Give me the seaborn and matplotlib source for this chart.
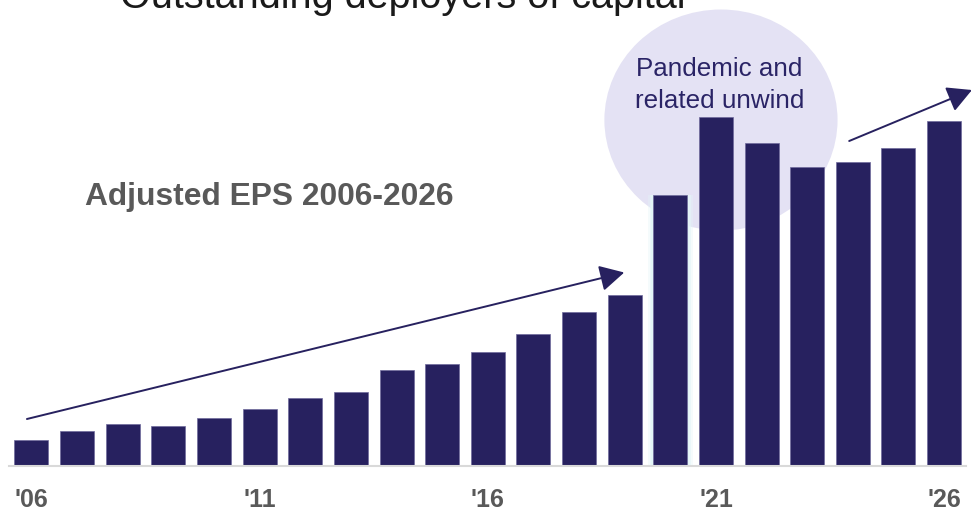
import matplotlib
matplotlib.use("Agg")
import matplotlib.pyplot as plt
from matplotlib.patches import Ellipse
import seaborn as sns
import pandas as pd

# Adjusted EPS index, 2006-2026
years = list(range(2006, 2027))
year_labels = ["'06", "'11", "'16", "'21", "'26"]
eps = [2.52, 3.42, 4.15, 3.95, 4.72, 5.65, 6.75, 7.38, 9.58, 10.15,
       11.38, 13.12, 15.32, 17.05, 27.05, 34.85, 32.25, 29.85, 30.35,
       31.75, 34.45]

NAVY = "#27215f"
GREY = "#595959"
LAVENDER = "#e4e2f4"

sns.set_theme(style="white")
plt.rcParams["font.family"] = ["Liberation Sans", "DejaVu Sans"]

df = pd.DataFrame({"year": [str(y) for y in years], "eps": eps})

fig = plt.figure(figsize=(9.72, 5.09), dpi=100)
ax = fig.add_axes([9 / 972, 43.5 / 509, 957 / 972, 465.5 / 509])

# highlight bubble behind the pandemic years
ax.add_patch(Ellipse((15.11, 34.55), 5.11, 22.1, facecolor=LAVENDER,
                     edgecolor="none", zorder=0))

# soft glow around the 2020 bar
for w, a in [(0.98, 0.35), (0.9, 0.6), (0.84, 0.9)]:
    ax.bar(14, eps[14], width=w, color="#e3f5f7", alpha=a, zorder=1,
           linewidth=0)

sns.barplot(data=df, x="year", y="eps", color=NAVY, saturation=1,
            width=0.745, edgecolor="#6f6a9c", linewidth=0.5, ax=ax, zorder=2)

ax.set_xlim(-0.493, 20.48)
ax.set_ylim(0, 46.55)
ax.set_xlabel("")
ax.set_ylabel("")
ax.set_yticks([])
ax.set_xticks([0, 5, 10, 15, 20])
ax.set_xticklabels(year_labels, fontsize=18, fontweight="bold", color=GREY)
ax.tick_params(axis="x", length=0, pad=16)
for s in ["top", "right", "left"]:
    ax.spines[s].set_visible(False)
ax.spines["bottom"].set_color("#d9d9d9")
ax.spines["bottom"].set_linewidth(1.5)
ax.patch.set_alpha(0)

# trend arrows
arrow_kw = dict(arrowstyle="-|>,head_length=0.75,head_width=0.4",
                color=NAVY, lw=1.4, mutation_scale=20, shrinkA=0, shrinkB=0)
ax.annotate("", xy=(12.99, 19.3), xytext=(-0.10, 4.65),
            arrowprops=arrow_kw, annotation_clip=False, zorder=3)
ax.annotate("", xy=(20.61, 37.55), xytext=(17.92, 32.45),
            arrowprops=arrow_kw, annotation_clip=False, zorder=3)

# labels
ax.text(1.17, 26.05, "Adjusted EPS 2006-2026", fontsize=22.9,
        fontweight="bold", color=GREY, va="baseline", ha="left")
ax.text(15.08, 38.95, "Pandemic and", fontsize=18.7, color="#2a2466",
        ha="center", va="baseline", zorder=4)
ax.text(15.08, 35.75, "related unwind", fontsize=18.7, color="#2a2466",
        ha="center", va="baseline", zorder=4)

fig.text(120 / 972, 1 - 8 / 509, "Outstanding deployers of capital",
         fontsize=28.5, color="#1a1a1a", ha="left", va="baseline")

fig.savefig("out.png", dpi=100)
